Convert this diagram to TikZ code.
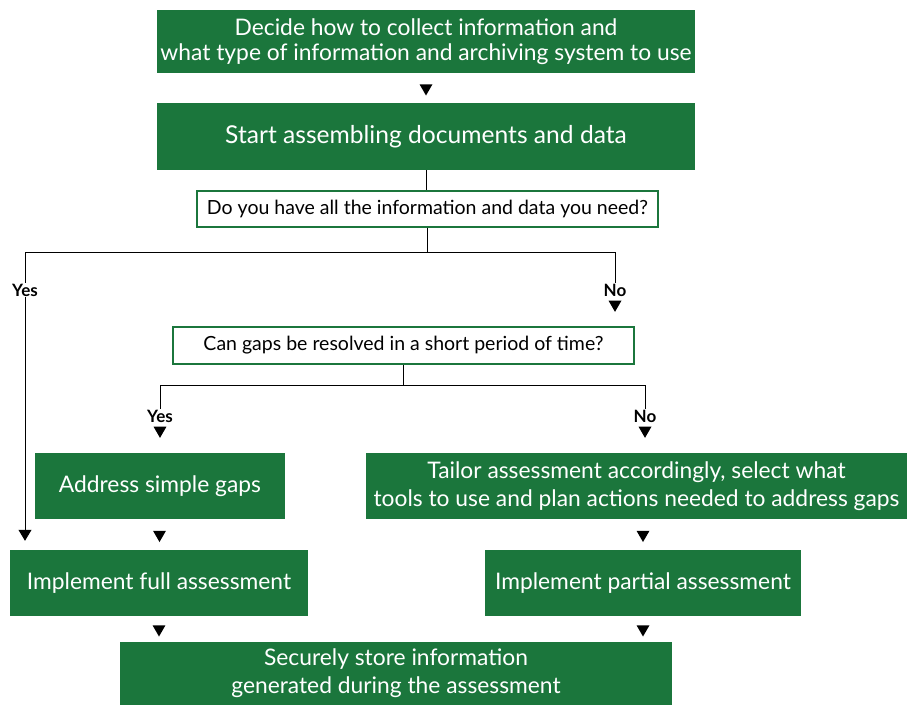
\documentclass[tikz,border=0pt]{standalone}
\usepackage{fontspec}
\setmainfont{Lato}
\usetikzlibrary{positioning,shapes.geometric,arrows.meta}
\definecolor{boxgreen}{RGB}{27,118,60}
\tikzset{
  stepbox/.style={fill=boxgreen, text=white, inner sep=0pt, align=center,
    font=\fontsize{22.8}{28}\selectfont},
  askbox/.style={draw=boxgreen, line width=1.5pt, fill=white, inner sep=0pt,
    font=\fontsize{19.5}{22}\selectfont},
  answer/.style={font=\bfseries\fontsize{17}{19}\selectfont, inner sep=1pt},
  tri/.style={regular polygon, regular polygon sides=3, shape border rotate=180,
    fill=black, inner sep=0pt, minimum size=15pt},
  link/.style={draw=black, line width=0.8pt},
}
\begin{document}
\begin{tikzpicture}[x=1pt, y=-1pt]
\useasboundingbox (0,0) rectangle (907,705);

% boxes
\node[stepbox, minimum width=538pt, minimum height=63pt, font=\fontsize{22.8}{25}\selectfont] (decide) at (426,41.5)
  {Decide how to collect information and\\what type of information and archiving system to use};
\node[stepbox, minimum width=538pt, minimum height=67pt, font=\fontsize{24.6}{28}\selectfont] (start) at (426,136.5)
  {Start assembling documents and data};
\node[askbox, minimum width=461pt, minimum height=36pt] (have) at (427.5,209)
  {Do you have all the information and data you need?};
\node[askbox, minimum width=461pt, minimum height=37pt] (gaps) at (403.5,345.5)
  {Can gaps be resolved in a short period of time?};
\node[stepbox, minimum width=250pt, minimum height=66pt] (simple) at (160,486)
  {Address simple gaps};
\node[stepbox, minimum width=541pt, minimum height=66pt] (tailor) at (636.5,486)
  {Tailor assessment accordingly, select what\\tools to use and plan actions needed to address gaps};
\node[stepbox, minimum width=298pt, minimum height=66pt] (full) at (159,583)
  {Implement full assessment};
\node[stepbox, minimum width=316pt, minimum height=66pt] (partial) at (643,583)
  {Implement partial assessment};
\node[stepbox, minimum width=552pt, minimum height=63pt] (store) at (396,673.5)
  {Securely store information\\generated during the assessment};

% answers
\node[answer] (yesA) at (25,290) {Yes};
\node[answer] (noA) at (615,290) {No};
\node[answer] (yesB) at (160,416) {Yes};
\node[answer] (noB) at (645,416) {No};

% connectors
\path (decide) -- node[tri] {} (start);
\draw[link] (start.south) -- (start.south |- have.north);
\draw[link] (have.south) -- ++(0,25) coordinate (split1);
\draw[link] (yesA.north) |- (split1) -| (noA.north);
\draw[link, -{Triangle[width=13pt,length=11pt]}, shorten >=9pt] (yesA.south) -- (yesA.south |- full.north);
\node[tri, below=3pt of noA] (noAtip) {};

\draw[link] (gaps.south) -- ++(0,21) coordinate (split2);
\draw[link] (yesB.north) |- (split2) -| (noB.north);
\node[tri, below=3pt of yesB] (yesBtip) {};
\node[tri, below=3pt of noB] (noBtip) {};

\path (simple) -- node[tri] {} (full);
\path (partial.north |- tailor.south) -- node[tri] {} (partial.north);
\path (full.south) -- node[tri] {} (full.south |- store.north);
\path (partial.south) -- node[tri] {} (partial.south |- store.north);
\end{tikzpicture}
\end{document}
